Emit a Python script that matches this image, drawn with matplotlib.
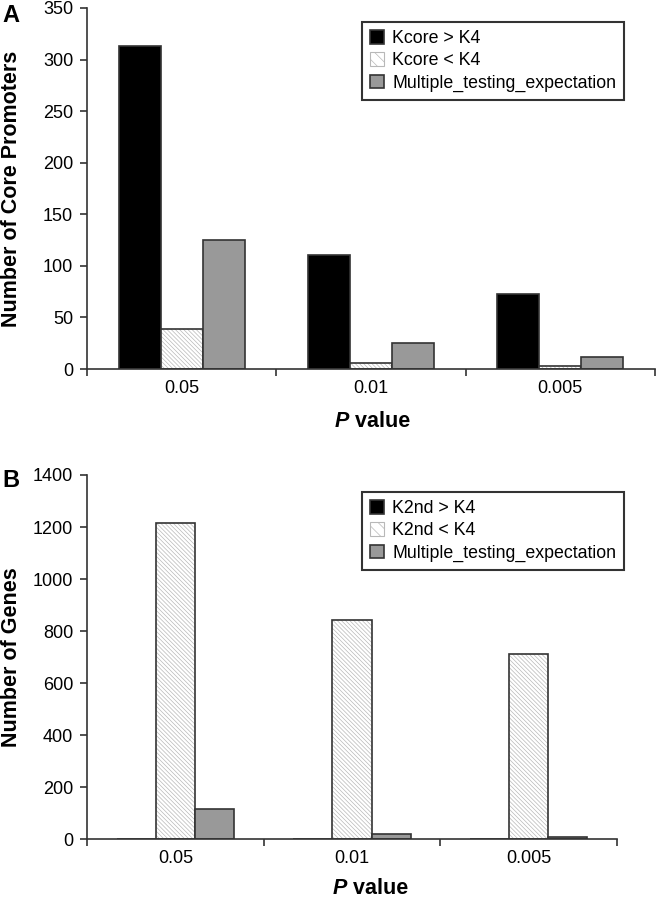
import matplotlib
matplotlib.use('Agg')
import matplotlib.pyplot as plt
from matplotlib.patches import Patch
from matplotlib.transforms import blended_transform_factory
import numpy as np

plt.rcParams['font.family'] = ['Liberation Sans', 'DejaVu Sans']
plt.rcParams['hatch.linewidth'] = 0.5

# ---- data ----
p_values = ['0.05', '0.01', '0.005']

labels_a = ['Kcore > K4', 'Kcore < K4', 'Multiple_testing_expectation']
kcore_gt = [313, 111, 73]
kcore_lt = [39, 6, 3]
expect_a = [125, 25, 12]

labels_b = ['K2nd > K4', 'K2nd < K4', 'Multiple_testing_expectation']
k2nd_gt = [2, 0, 0]
k2nd_lt = [1214, 844, 713]
expect_b = [116, 22, 10]

W, H = 656, 899
fig = plt.figure(figsize=(W / 100, H / 100), dpi=100)

EDGE = '#333333'
GREY = '#999999'
HATCH_C = '#b8b8b8'
BW = 0.222


def fx(px):
    return px / W


def fy(py):
    return 1 - py / H


def panel(rect, series, labels, ymax, ystep, ylabel, legend_box):
    ax = fig.add_axes(rect)
    x = np.arange(len(p_values))
    s1, s2, s3 = series
    ax.bar(x - BW, s1, BW, color='black', edgecolor=EDGE, linewidth=1.2)
    # hatched bar: hatch in light grey, outline drawn separately
    ax.bar(x, s2, BW, color='white', edgecolor=HATCH_C, linewidth=0, hatch='\\' * 8)
    ax.bar(x, s2, BW, fill=False, edgecolor=EDGE, linewidth=1.2)
    ax.bar(x + BW, s3, BW, color=GREY, edgecolor=EDGE, linewidth=1.2)

    ax.set_xlim(-0.5, len(p_values) - 0.5)
    ax.set_ylim(0, ymax)
    ax.set_yticks(np.arange(0, ymax + 1, ystep))
    ax.set_xticks(np.arange(-0.5, len(p_values), 1.0))
    ax.set_xticklabels([])
    ax.set_xticks(x, minor=True)
    ax.set_xticklabels(p_values, minor=True)
    ax.tick_params(axis='x', which='minor', length=0, pad=8, labelsize=13)
    ax.tick_params(axis='x', which='major', length=5, width=1.2, color=EDGE)
    ax.tick_params(axis='y', length=5, width=1.2, color=EDGE, pad=5, labelsize=13)
    for side in ['top', 'right']:
        ax.spines[side].set_visible(False)
    for side in ['left', 'bottom']:
        ax.spines[side].set_color(EDGE)
        ax.spines[side].set_linewidth(1.2)

    ax.set_ylabel(ylabel, fontsize=15.5, fontweight='bold')
    ax.yaxis.set_label_coords(fx(22.5), 0.5,
                              transform=blended_transform_factory(fig.transFigure, ax.transAxes))

    handles = [
        Patch(facecolor='black', edgecolor=EDGE, linewidth=1.2),
        Patch(facecolor='white', edgecolor=HATCH_C, hatch='\\\\\\', linewidth=0.8),
        Patch(facecolor=GREY, edgecolor=EDGE, linewidth=1.2),
    ]
    leg = ax.legend(handles, labels, loc='upper right',
                    bbox_to_anchor=legend_box, bbox_transform=fig.transFigure,
                    borderaxespad=0, fontsize=12.8, frameon=True, fancybox=False,
                    handlelength=0.8, handleheight=0.8, handletextpad=0.45,
                    labelspacing=0.3, borderpad=0.45)
    leg.get_frame().set_edgecolor('black')
    leg.get_frame().set_linewidth(1.5)
    return ax


ax_a = panel([fx(87), fy(369), fx(655) - fx(87), fy(8) - fy(369)],
             (kcore_gt, kcore_lt, expect_a), labels_a, 350, 50,
             'Number of Core Promoters', (fx(624), fy(22)))
ax_b = panel([fx(87), fy(839.3), fx(617) - fx(87), fy(475) - fy(839.3)],
             (k2nd_gt, k2nd_lt, expect_b), labels_b, 1400, 200,
             'Number of Genes', (fx(624), fy(492)))


def p_label(x_px, base_px):
    t = fig.text(fx(x_px), fy(base_px), 'P', fontsize=15.5, fontweight='bold',
                 style='italic', ha='left', va='baseline')
    ax_a.annotate(' value', xy=(1, 0), xycoords=t, fontsize=15.5, fontweight='bold',
                  ha='left', va='bottom', annotation_clip=False)


p_label(335, 427)
p_label(333, 894)

fig.text(fx(2), fy(22), 'A', fontsize=17, fontweight='bold', ha='left', va='baseline')
fig.text(fx(2), fy(487), 'B', fontsize=17, fontweight='bold', ha='left', va='baseline')

fig.savefig('out.png', dpi=100)
